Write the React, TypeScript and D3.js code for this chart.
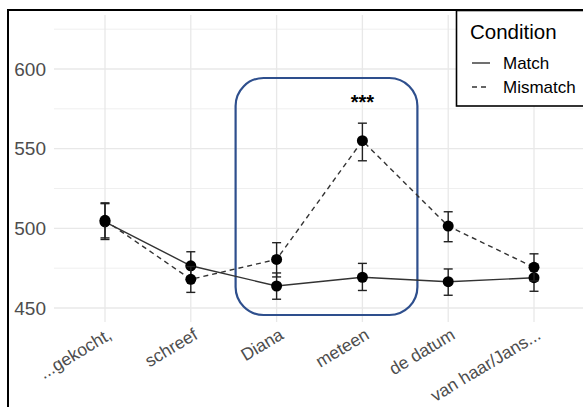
import { useEffect, useRef } from 'react';
import * as d3 from 'd3';

// regions on the x axis
const categories = ['...gekocht,', 'schreef', 'Diana', 'meteen', 'de datum', 'van haar/Jans...'];
// mean reading times and error bar ends per condition
const matchMean = [504, 476.5, 463.8, 469.3, 466.5, 469];
const matchLow = [493, 467.5, 455.5, 461, 458, 460.5];
const matchHigh = [515.5, 485.3, 472, 478, 474.5, 477.5];
const mismatchMean = [505, 468, 480.5, 555, 501.4, 475.5];
const mismatchLow = [494, 459.8, 469.5, 542.4, 491.6, 467];
const mismatchHigh = [516, 476, 491, 566, 510.4, 484];
const yTicks = [450, 500, 550, 600];
const yMinor = [475, 525, 575, 625];

const font = 'Liberation Sans, Arial, Helvetica, sans-serif';

export default function App() {
  const ref = useRef<SVGSVGElement | null>(null);

  useEffect(() => {
    const width = 583;
    const height = 407;
    const svg = d3.select(ref.current);
    svg.selectAll('*').remove();
    svg.attr('width', width).attr('height', height);

    const panelLeft = 54;
    const panelTop = 15;
    const panelBottom = 322;

    const x = d3.scalePoint<string>().domain(categories).range([105, 534]);
    const y = d3.scaleLinear().domain([450, 600]).range([308, 69]);

    svg.append('rect').attr('width', width).attr('height', height).attr('fill', 'white');

    // grid
    const grid = svg.append('g');
    grid.selectAll('.minor').data(yMinor).enter().append('line')
      .attr('x1', panelLeft).attr('x2', width)
      .attr('y1', d => y(d)).attr('y2', d => y(d))
      .attr('stroke', '#efefef').attr('stroke-width', 1);
    grid.selectAll('.major').data(yTicks).enter().append('line')
      .attr('x1', panelLeft).attr('x2', width)
      .attr('y1', d => y(d)).attr('y2', d => y(d))
      .attr('stroke', '#e8e8e8').attr('stroke-width', 1.3);
    grid.selectAll('.vx').data(categories).enter().append('line')
      .attr('x1', d => x(d)!).attr('x2', d => x(d)!)
      .attr('y1', panelTop).attr('y2', panelBottom)
      .attr('stroke', '#e8e8e8').attr('stroke-width', 1.3);

    // y tick labels
    svg.selectAll('.ytick').data(yTicks).enter().append('text')
      .attr('x', 46).attr('y', d => y(d)).attr('dy', '0.35em')
      .attr('text-anchor', 'end')
      .style('font-family', font).style('font-size', '19px').attr('fill', '#4d4d4d')
      .text(d => d);

    // x tick labels
    svg.selectAll('.xtick').data(categories).enter().append('text')
      .attr('transform', d => `translate(${x(d)! + 8},${338}) rotate(-31)`)
      .attr('text-anchor', 'end')
      .style('font-family', font).style('font-size', '17.5px').attr('fill', '#4d4d4d')
      .text(d => d);

    // highlight box
    svg.append('rect')
      .attr('x', x('Diana')! - 41).attr('y', 78)
      .attr('width', x('meteen')! + 55 - (x('Diana')! - 41)).attr('height', 237)
      .attr('rx', 28).attr('ry', 28)
      .attr('fill', 'none').attr('stroke', '#2e4f8d').attr('stroke-width', 2.2);

    const series = [
      { mean: matchMean, low: matchLow, high: matchHigh, dash: null },
      { mean: mismatchMean, low: mismatchLow, high: mismatchHigh, dash: '5,4' },
    ];

    const line = d3.line<number>()
      .x((_, i) => x(categories[i])!)
      .y(d => y(d));

    series.forEach(s => {
      svg.append('path')
        .attr('d', line(s.mean))
        .attr('fill', 'none').attr('stroke', '#333333').attr('stroke-width', 1.4)
        .attr('stroke-dasharray', s.dash);
    });

    series.forEach(s => {
      const g = svg.append('g');
      categories.forEach((c, i) => {
        const cx = x(c)!;
        g.append('line').attr('x1', cx).attr('x2', cx)
          .attr('y1', y(s.low[i])).attr('y2', y(s.high[i]))
          .attr('stroke', '#222').attr('stroke-width', 1.4);
        [s.low[i], s.high[i]].forEach(v => {
          g.append('line').attr('x1', cx - 4.5).attr('x2', cx + 4.5)
            .attr('y1', y(v)).attr('y2', y(v))
            .attr('stroke', '#222').attr('stroke-width', 1.4);
        });
        g.append('circle').attr('cx', cx).attr('cy', y(s.mean[i])).attr('r', 5.5).attr('fill', 'black');
      });
    });

    // significance
    svg.append('text')
      .attr('x', x('meteen')!).attr('y', 109)
      .attr('text-anchor', 'middle')
      .style('font-family', font).style('font-size', '20px').style('font-weight', 'bold')
      .text('***');

    // legend
    const lg = svg.append('g');
    lg.append('rect').attr('x', 456.5).attr('y', 10.5).attr('width', 140).attr('height', 95.5)
      .attr('fill', 'white').attr('stroke', 'black').attr('stroke-width', 1.6);
    lg.append('text').attr('x', 470).attr('y', 39)
      .style('font-family', font).style('font-size', '20.5px').text('Condition');
    const keys = [{ label: 'Match', dash: null, y: 63 }, { label: 'Mismatch', dash: '5,4', y: 87 }];
    keys.forEach(k => {
      lg.append('line').attr('x1', 472).attr('x2', 490).attr('y1', k.y).attr('y2', k.y)
        .attr('stroke', '#333').attr('stroke-width', 1.4).attr('stroke-dasharray', k.dash);
      lg.append('text').attr('x', 503).attr('y', k.y).attr('dy', '0.35em')
        .style('font-family', font).style('font-size', '17px').text(k.label);
    });

    // outer frame
    svg.append('rect').attr('x', 8).attr('y', 10).attr('width', 600).attr('height', 420)
      .attr('fill', 'none').attr('stroke', 'black').attr('stroke-width', 2);
  }, []);

  return <svg ref={ref} style={{ position: 'absolute', left: 0, top: 0 }} />;
}
